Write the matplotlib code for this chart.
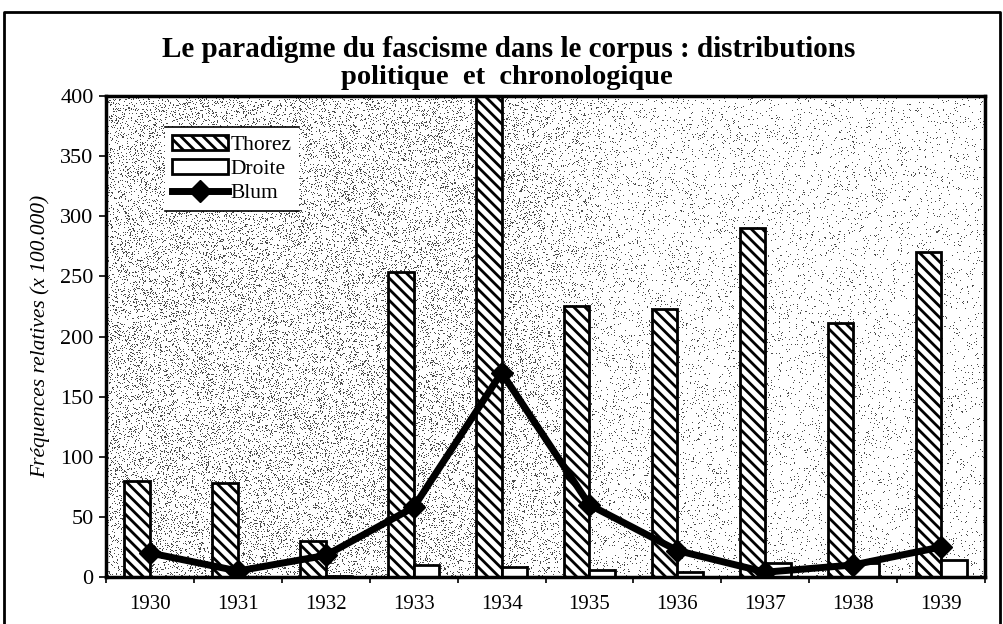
import numpy as np
import matplotlib
matplotlib.use("Agg")
import matplotlib.pyplot as plt
from matplotlib.lines import Line2D
from matplotlib.patches import Patch

years = ["1930", "1931", "1932", "1933", "1934", "1935", "1936", "1937", "1938", "1939"]
thorez = [80, 78, 30, 254, 400, 225, 223, 290, 211, 270]
droite = [0, 0, 1, 10, 8, 6, 4, 12, 12, 14]
blum = [20, 5, 18, 58, 170, 60, 22, 4, 10, 25]

plt.rcParams["font.family"] = "Liberation Serif"
plt.rcParams["hatch.linewidth"] = 2.0

fig = plt.figure(figsize=(10.04, 6.24), dpi=100)
ax = fig.add_axes([0.1056, 0.0753, 0.8755, 0.7707])

x = np.arange(len(years))
w = 0.29

# stipple texture for the plot background (denser on the left)
ny, nx = 481, 879
gx, gy = np.meshgrid(np.arange(nx), np.arange(ny))
h = np.sin(gx * 12.9898 + gy * 78.233) * 43758.5453
h = h - np.floor(h)
dens = np.interp(np.arange(nx), [0, 400, 520, 879], [0.15, 0.14, 0.06, 0.035])
dots = np.where(h < dens[None, :], 0.3, 1.0)
ax.imshow(dots, cmap="gray", vmin=0, vmax=1, aspect="auto", interpolation="nearest",
          extent=[-0.5, 9.5, 0, 400], zorder=0)

ax.bar(x - w / 2, thorez, w, color="white", edgecolor="black", linewidth=2,
       hatch="\\\\\\", zorder=2)
ax.bar(x + w / 2, droite, w, color="white", edgecolor="black", linewidth=2, zorder=2)
ax.plot(x, blum, color="black", lw=5, marker="D", ms=11, zorder=3)

ax.set_xlim(-0.5, 9.5)
ax.set_ylim(0, 400)
ax.set_yticks(range(0, 401, 50))
ax.set_xticks(x)
ax.set_xticklabels(years)
ax.set_xticks(np.arange(-0.5, 10, 1), minor=True)
ax.tick_params(axis="x", which="major", length=0, labelsize=15, pad=13)
ax.tick_params(axis="x", which="minor", length=4, width=1.2, direction="out")
ax.tick_params(axis="y", length=5, width=1.2, labelsize=16, pad=4)
for s in ax.spines.values():
    s.set_linewidth(2.5)

ax.set_ylabel("Fréquences relatives (x 100.000)", fontsize=15.5, style="italic", labelpad=7)

fig.text(0.507, 0.908, "Le paradigme du fascisme dans le corpus : distributions",
         ha="center", va="baseline", fontsize=21, fontweight="bold")
fig.text(0.505, 0.866, "politique  et  chronologique",
         ha="center", va="baseline", fontsize=20.5, fontweight="bold")

handles = [Patch(facecolor="white", edgecolor="black", hatch="\\\\\\", linewidth=2),
           Patch(facecolor="white", edgecolor="black", linewidth=2),
           Line2D([], [], color="black", lw=5, marker="D", ms=11)]
leg = ax.legend(handles, ["Thorez", "Droite", "Blum"], loc="upper left",
                bbox_to_anchor=(0.164, 0.7965), bbox_transform=fig.transFigure,
                borderaxespad=0, fontsize=15.5, frameon=True, fancybox=False,
                handlelength=2.6, handletextpad=0.1, labelspacing=0.2, borderpad=0.35)
leg.get_frame().set_edgecolor("none")
leg.get_frame().set_facecolor("white")
leg.get_frame().set_alpha(1)

# legend only shows a rule above and below
fig.canvas.draw()
bb = leg.get_window_extent().transformed(fig.transFigure.inverted())
for yy in (bb.y0, bb.y1):
    fig.add_artist(Line2D([bb.x0, bb.x1], [yy, yy], color="black", lw=1.2,
                          transform=fig.transFigure))

# frame around the scanned figure (left, top, right)
fig.add_artist(Line2D([0.004, 0.004, 0.996, 0.996], [0.0, 0.981, 0.981, 0.0],
                      color="black", lw=2, transform=fig.transFigure))

fig.savefig("out.png", dpi=100)
